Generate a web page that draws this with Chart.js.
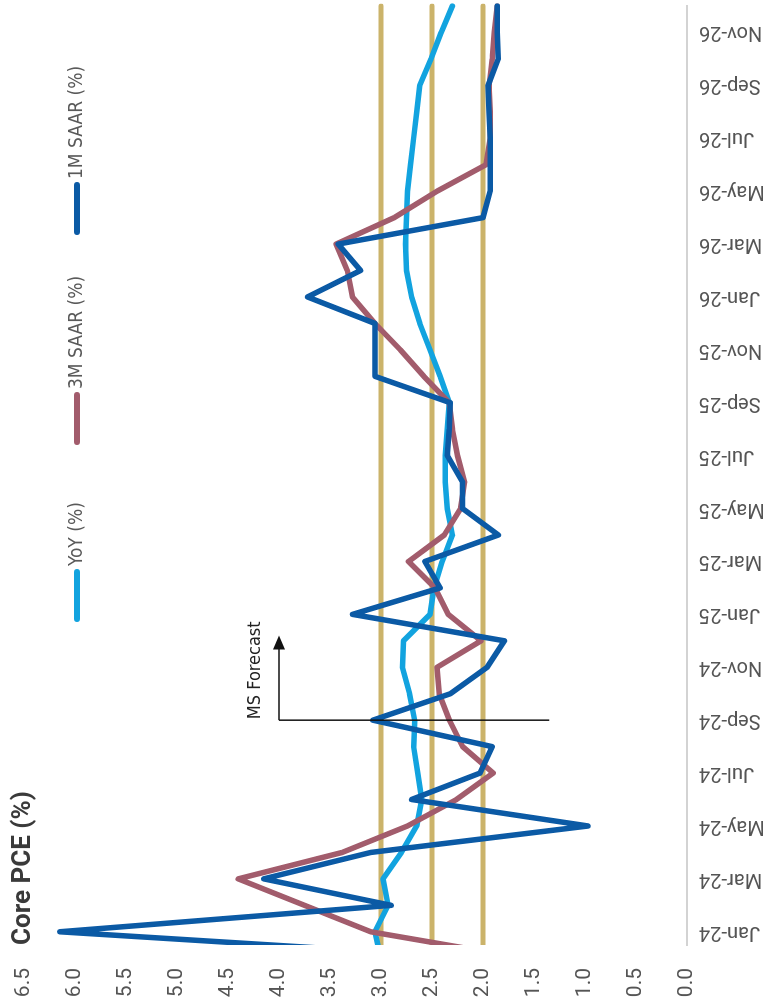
<!DOCTYPE html>
<html>
<head>
<meta charset="utf-8">
<script src="https://cdn.jsdelivr.net/npm/chart.js@4.4.1/dist/chart.umd.min.js"></script>
<style>
  html, body { margin: 0; padding: 0; background: #ffffff; overflow: hidden; }
  #wrap {
    position: absolute; left: 0; top: 0; width: 1004px; height: 770px;
    transform-origin: 0 0; transform: translate(0px, 1004px) rotate(-90deg);
    background: #ffffff;
  }
</style>
</head>
<body>
<div id="wrap"><canvas id="c" width="1004" height="770"></canvas></div>
<script>
// ---- data ----
const months = ['Dec-23','Jan-24','Feb-24','Mar-24','Apr-24','May-24','Jun-24','Jul-24','Aug-24','Sep-24','Oct-24','Nov-24','Dec-24',
  'Jan-25','Feb-25','Mar-25','Apr-25','May-25','Jun-25','Jul-25','Aug-25','Sep-25','Oct-25','Nov-25','Dec-25',
  'Jan-26','Feb-26','Mar-26','Apr-26','May-26','Jun-26','Jul-26','Aug-26','Sep-26','Oct-26','Nov-26','Dec-26'];
const tickMonths = ['Jan-24','Mar-24','May-24','Jul-24','Sep-24','Nov-24','Jan-25','Mar-25','May-25','Jul-25','Sep-25','Nov-25',
  'Jan-26','Mar-26','May-26','Jul-26','Sep-26','Nov-26'];
const valueTicks = [0, 0.5, 1, 1.5, 2, 2.5, 3, 3.5, 4, 4.5, 5, 5.5, 6, 6.5];

const yoy = [3.00, 3.06, 2.93, 2.98, 2.80, 2.65, 2.60, 2.64, 2.68, 2.67, 2.72, 2.79, 2.78,
  2.52, 2.48, 2.40, 2.30, 2.35, 2.37, 2.37, 2.35, 2.33, 2.42, 2.52, 2.62,
  2.70, 2.75, 2.76, 2.75, 2.74, 2.71, 2.68, 2.65, 2.62, 2.51, 2.41, 2.30];
const saar3m = [1.60, 3.10, 3.75, 4.40, 3.38, 2.74, 2.26, 1.90, 2.20, 2.33, 2.43, 2.45, 2.02,
  2.34, 2.47, 2.73, 2.38, 2.22, 2.18, 2.25, 2.30, 2.33, 2.58, 2.81, 3.06,
  3.28, 3.33, 3.44, 2.87, 2.45, 1.97, 1.93, 1.93, 1.94, 1.91, 1.89, 1.86];
const saar1m = [2.00, 6.15, 2.90, 4.15, 3.10, 0.97, 2.70, 2.03, 1.91, 3.08, 2.32, 1.96, 1.79,
  3.28, 2.42, 2.57, 1.85, 2.20, 2.20, 2.35, 2.33, 2.32, 3.06, 3.06, 3.06,
  3.72, 3.20, 3.42, 2.00, 1.93, 1.93, 1.93, 1.94, 1.95, 1.85, 1.86, 1.86];
const refLevels = [3.0, 2.5, 2.0];

const forecastMonth = 'Sep-24';
const forecastSpan = [1.35, 4.0];     // value range of the forecast marker line
const forecastArrowMonths = 3.2;      // arrow length in months
const forecastLabel = 'MS Forecast';
const titleText = 'Core PCE (%)';

const C1M = '#0b5aa5', C3M = '#a25c6c', CYOY = '#12a3df', CREF = '#cbb36a';

const toPts = arr => arr.map((v, i) => ({ x: i, y: v }));
const lineDs = (label, arr, color) => ({
  label, data: toPts(arr), borderColor: color, backgroundColor: color,
  borderWidth: 5.5, pointRadius: 0, tension: 0, borderJoinStyle: 'round', borderCapStyle: 'round'
});

const datasets = [
  lineDs('1M SAAR (%)', saar1m, C1M),
  lineDs('3M SAAR (%)', saar3m, C3M),
  lineDs('YoY (%)', yoy, CYOY),
  ...refLevels.map(lv => ({
    label: 'ref ' + lv, data: months.map((m, i) => ({ x: i, y: lv })),
    borderColor: CREF, borderWidth: 5, pointRadius: 0, borderCapStyle: 'round'
  }))
];

const overlay = {
  id: 'overlay',
  afterDatasetsDraw(chart) {
    const { ctx, scales: { x, y } } = chart;
    const xf = x.getPixelForValue(months.indexOf(forecastMonth));
    const yTop = y.getPixelForValue(forecastSpan[1]);
    const yBot = y.getPixelForValue(forecastSpan[0]);
    ctx.save();
    ctx.strokeStyle = '#111'; ctx.fillStyle = '#111'; ctx.lineWidth = 1.5;
    ctx.beginPath(); ctx.moveTo(xf, yTop); ctx.lineTo(xf, yBot); ctx.stroke();
    const xa = x.getPixelForValue(months.indexOf(forecastMonth) + forecastArrowMonths);
    ctx.beginPath(); ctx.moveTo(xf, yTop); ctx.lineTo(xa - 12, yTop); ctx.stroke();
    ctx.beginPath(); ctx.moveTo(xa, yTop); ctx.lineTo(xa - 14, yTop - 6); ctx.lineTo(xa - 14, yTop + 6); ctx.closePath(); ctx.fill();
    ctx.font = '18px "Liberation Sans Narrow", "DejaVu Sans Condensed", sans-serif';
    ctx.textAlign = 'left'; ctx.textBaseline = 'middle'; ctx.fillStyle = '#222';
    ctx.fillText(forecastLabel, xf + 1, yTop - 24);
    ctx.restore();
  },
  afterDraw(chart) {
    const { ctx, chartArea } = chart;
    ctx.save();
    // title
    ctx.font = 'bold 26px Roboto, sans-serif';
    ctx.fillStyle = '#3a3a3a'; ctx.textAlign = 'left'; ctx.textBaseline = 'middle';
    ctx.fillText(titleText, chartArea.left, 23);
    // legend
    const items = [[datasets[2].label, CYOY], [datasets[1].label, C3M], [datasets[0].label, C1M]];
    const starts = [382, 559, 769];
    ctx.font = '19px "Liberation Sans Narrow", "DejaVu Sans Condensed", sans-serif';
    ctx.textBaseline = 'middle';
    const ly = 77;
    items.forEach(([label, color], i) => {
      const lx = starts[i];
      ctx.strokeStyle = color; ctx.lineWidth = 6; ctx.lineCap = 'round';
      ctx.beginPath(); ctx.moveTo(lx + 3, ly); ctx.lineTo(lx + 50, ly); ctx.stroke();
      ctx.fillStyle = '#5a5a5a';
      ctx.fillText(label, lx + 56, ly);
    });
    ctx.restore();
  }
};

new Chart(document.getElementById('c'), {
  type: 'line',
  data: { datasets },
  plugins: [overlay],
  options: {
    responsive: false,
    animation: false,
    devicePixelRatio: 1,
    layout: { autoPadding: false, padding: { top: 24, right: 6, bottom: 0, left: 0 } },
    plugins: { legend: { display: false }, tooltip: { enabled: false }, title: { display: false } },
    scales: {
      x: {
        type: 'linear', position: 'bottom', min: 0.5, bounds: 'data',
        afterBuildTicks: s => { s.ticks = tickMonths.map(m => ({ value: months.indexOf(m) })); },
        afterFit: s => { s.height = 83; s.paddingLeft = 0; s.paddingRight = 0; s.paddingTop = 0; s.paddingBottom = 0; },
        grid: { display: false, drawTicks: false },
        border: { display: true, color: '#d3d3d3', width: 2 },
        ticks: {
          autoSkip: false, minRotation: 90, maxRotation: 90, padding: 12,
          color: '#555', font: { family: 'Roboto', size: 20 },
          callback: v => months[v] ?? ''
        }
      },
      y: {
        min: 0, max: 6.5,
        afterBuildTicks: s => { s.ticks = valueTicks.map(v => ({ value: v })); },
        afterFit: s => { s.width = 59; s.paddingTop = 0; s.paddingBottom = 0; s.paddingLeft = 0; s.paddingRight = 0; },
        grid: { display: false, drawTicks: false },
        border: { display: false },
        ticks: { padding: 23, color: '#555', font: { family: 'Roboto', size: 21 }, callback: v => Number(v).toFixed(1) }
      }
    }
  }
});
</script>
</body>
</html>
